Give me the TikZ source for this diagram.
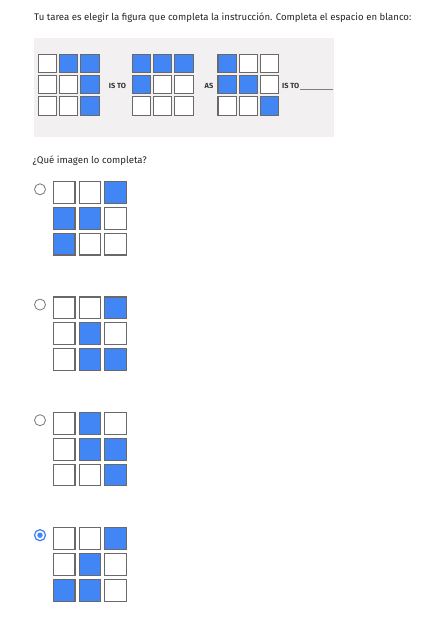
\documentclass[tikz,border=0pt]{standalone}
\usepackage{fontspec}
\setmainfont{Fira Sans}
\definecolor{cblue}{RGB}{66,133,244}
\definecolor{panelgray}{RGB}{242,240,241}
\definecolor{cellline}{RGB}{105,105,105}
\definecolor{radiogray}{RGB}{120,120,120}
\newcommand{\mygrid}[6]{%
  \foreach \v [count=\i from 0] in {#6} {%
    \pgfmathtruncatemacro\rr{\i/3}%
    \pgfmathtruncatemacro\cc{\i-3*\rr}%
    \ifnum\v=1 \def\fc{cblue}\else\def\fc{white}\fi
    \node[cellbox, minimum size=#5pt, fill=\fc] (#1-\i) at ({#2+\cc*#4+#5/2},{#3+\rr*#4+#5/2}) {};
  }%
}
\begin{document}
\begin{tikzpicture}[x=1pt,y=-1pt,
  cellbox/.style={draw=cellline, line width=1.1pt, inner sep=0pt, outer sep=0pt},
  txt/.style={inner sep=0pt, anchor=west, font=\fontsize{9.6}{11}\selectfont, text=black!85},
  lbl/.style={inner sep=0pt, font=\bfseries\fontsize{7.4}{8}\selectfont, text=black!80},
  radio/.style={circle, draw=radiogray, line width=0.8pt, minimum size=11pt, inner sep=0pt},
  radiosel/.style={circle, draw=cblue, line width=1.3pt, minimum size=11pt, inner sep=0pt},
  dot/.style={circle, fill=cblue, minimum size=5.5pt, inner sep=0pt}]
\useasboundingbox (0,0) rectangle (432,631);
\fill[white] (0,0) rectangle (432,631);
\node[txt] (title) at (34,18) {Tu tarea es elegir la figura que completa la instrucción. Completa el espacio en blanco:};
\node[fill=panelgray, minimum width=300pt, minimum height=99pt, inner sep=0pt, anchor=north west] (panel) at (34,38) {};
\mygrid{ga}{38.3}{54.3}{21.2}{18.4}{0,1,1,0,0,1,0,0,1}
\node[lbl] (isto1) at (117.5,85.5) {IS TO};
\mygrid{gb}{132.3}{54.3}{21.2}{18.4}{1,1,1,1,0,0,0,0,0}
\node[lbl] (as) at (209,85.5) {AS};
\mygrid{gc}{218}{54.3}{21.2}{18.4}{1,0,0,1,1,0,0,0,1}
\node[lbl, anchor=west] (isto2) at (282,85.5) {IS TO};
\coordinate (blankend) at (333,88.5);
\draw[gray, line width=0.5pt] (isto2.south east) ++(1,0.5) coordinate (blankstart) -- (blankend |- blankstart);
\node[txt] (question) at (32.5,161) {¿Qué imagen lo completa?};
\mygrid{oa}{53.3}{181.7}{25.8}{21.7}{0,0,1,1,1,0,1,0,0}
\node[radio] (ra) at (40,189.3) {};
\mygrid{ob}{53.3}{297}{25.8}{21.7}{0,0,1,0,1,0,0,1,1}
\node[radio] (rb) at (40,304.6) {};
\mygrid{oc}{53.3}{412.6}{25.8}{21.7}{0,1,0,0,1,1,0,0,1}
\node[radio] (rc) at (40,420.2) {};
\mygrid{od}{53.3}{527.8}{25.8}{21.7}{0,0,1,0,1,0,1,1,0}
\node[radiosel] (rd) at (40,535.2) {};
\node[dot] (rddot) at (rd.center) {};
\end{tikzpicture}
\end{document}
